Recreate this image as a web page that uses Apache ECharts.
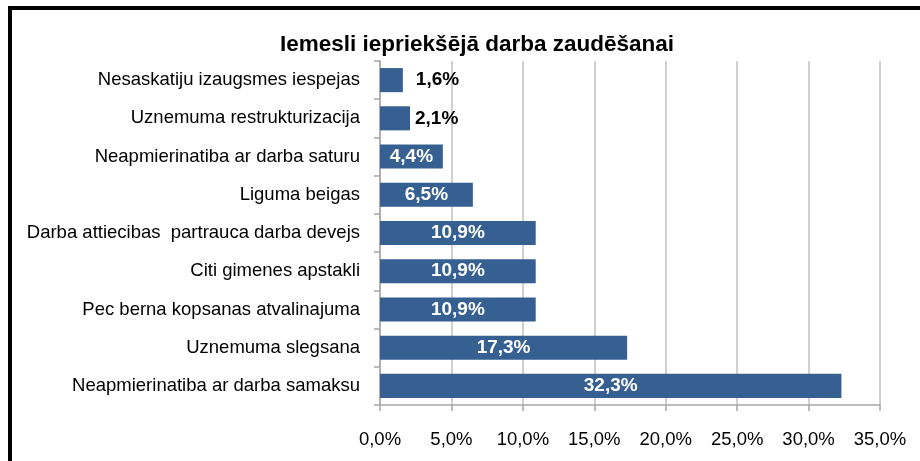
<!DOCTYPE html>
<html>
<head>
<meta charset="utf-8">
<script src="https://cdn.jsdelivr.net/npm/echarts@6/dist/echarts.min.js"></script>
<style>
html,body{margin:0;padding:0;background:#fff;}
#chart{width:920px;height:461px;}
</style>
</head>
<body>
<div id="chart"></div>
<script>
const titleText = 'Iemesli iepriekšējā darba zaudēšanai';
const categories = [
  'Nesaskatiju izaugsmes iespejas',
  'Uznemuma restrukturizacija',
  'Neapmierinatiba ar darba saturu',
  'Liguma beigas',
  'Darba attiecibas  partrauca darba devejs',
  'Citi gimenes apstakli',
  'Pec berna kopsanas atvalinajuma',
  'Uznemuma slegsana',
  'Neapmierinatiba ar darba samaksu'
];
const values = [1.6, 2.1, 4.4, 6.5, 10.9, 10.9, 10.9, 17.3, 32.3];
const outsideLabelDistance = [13, 5];
const xTicks = [0, 5, 10, 15, 20, 25, 30, 35];

const FONT = '"Liberation Sans", Arial, sans-serif';
const fmt = v => v.toFixed(1).replace('.', ',') + '%';

const seriesData = values.map((v, i) => {
  const item = { value: v };
  if (i < outsideLabelDistance.length) {
    item.label = { position: 'right', color: '#000', distance: outsideLabelDistance[i] };
  }
  return item;
});

const chart = echarts.init(document.getElementById('chart'));
chart.setOption({
  backgroundColor: '#fff',
  animation: false,
  title: {
    text: titleText,
    left: 472,
    top: 28,
    textAlign: 'center',
    textStyle: { fontFamily: FONT, fontSize: 22.5, fontWeight: 'bold', color: '#000' }
  },
  graphic: [{
    type: 'rect',
    shape: { x: 10, y: 8, width: 1200, height: 1200 },
    style: { fill: 'none', stroke: '#000', lineWidth: 4 },
    silent: true
  }],
  grid: { left: 380, right: 40, top: 61, bottom: 56, containLabel: false, outerBoundsMode: 'none' },
  xAxis: {
    type: 'value',
    min: xTicks[0],
    max: xTicks[xTicks.length - 1],
    interval: 5,
    axisLine: { show: true, lineStyle: { color: '#a6a6a6', width: 1.5 } },
    axisTick: { show: true, length: 6, lineStyle: { color: '#a6a6a6', width: 1.5 } },
    splitLine: { show: true, lineStyle: { color: '#c0c0c0', width: 1.5 } },
    axisLabel: { fontFamily: FONT, fontSize: 18.5, color: '#000', margin: 25, formatter: v => fmt(v) }
  },
  yAxis: {
    type: 'category',
    data: categories,
    inverse: true,
    axisLine: { show: true, lineStyle: { color: '#a6a6a6', width: 1.5 } },
    axisTick: { show: true, length: 6, lineStyle: { color: '#a6a6a6', width: 1.5 } },
    axisLabel: { fontFamily: FONT, fontSize: 18.5, color: '#000', margin: 20 }
  },
  series: [{
    type: 'bar',
    data: seriesData,
    barWidth: '63%',
    itemStyle: { color: '#376092' },
    label: {
      show: true,
      position: 'inside',
      color: '#fff',
      fontFamily: FONT,
      fontSize: 19,
      fontWeight: 'bold',
      formatter: p => fmt(p.value)
    }
  }]
});
</script>
</body>
</html>
